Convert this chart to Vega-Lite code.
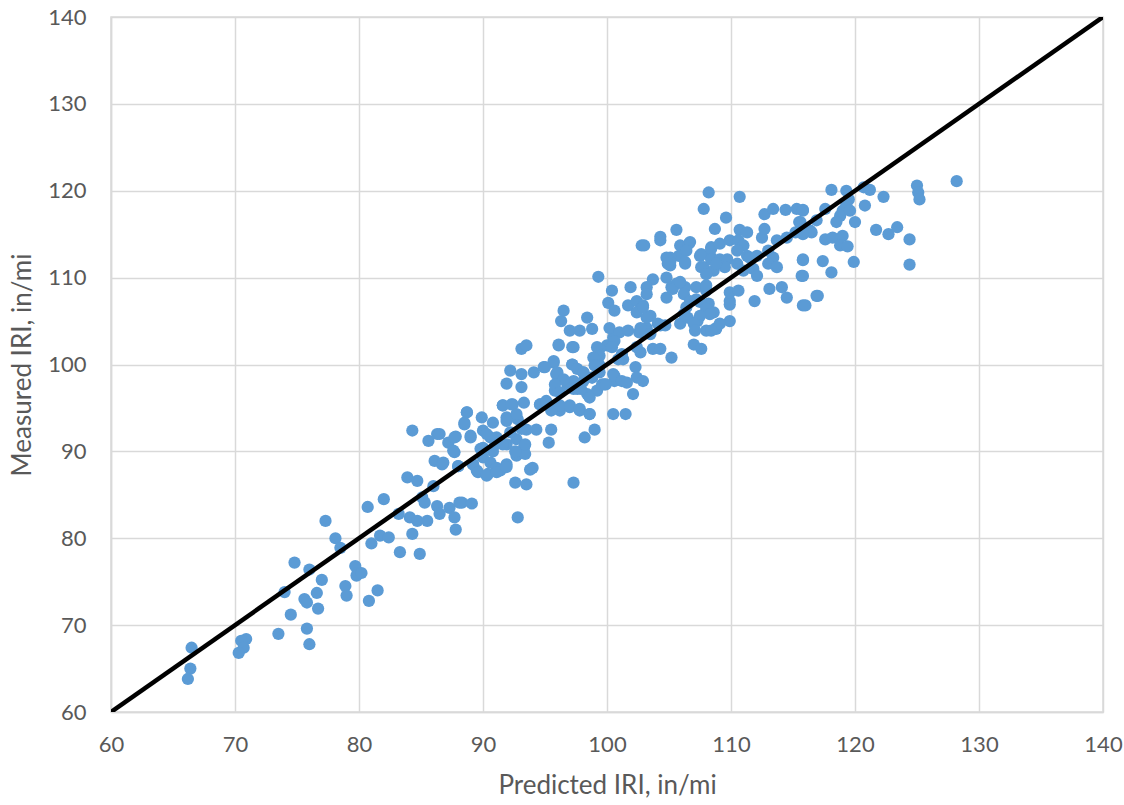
{
  "$schema": "https://vega.github.io/schema/vega-lite/v6.json",
  "width": 992,
  "height": 695,
  "autosize": {"type": "none"},
  "padding": {"left": 111, "top": 17, "right": 21, "bottom": 93},
  "background": "white",
  "config": {
    "font": "Lato",
    "view": {"stroke": "#d9d9d9", "strokeWidth": 1.5},
    "axis": {
      "labelFont": "Lato", "labelFontSize": 22, "labelColor": "#595959", "labelFlush": false, "labelOverlap": false,
      "titleFont": "Lato", "titleFontSize": 26, "titleColor": "#595959", "titleFontWeight": "normal",
      "gridColor": "#d9d9d9", "gridWidth": 1.5, "domainColor": "#d9d9d9", "domainWidth": 1.5, "ticks": false
    }
  },
  "datasets": {
    "pts": [
      {"p":66.5,"m":67.4},{"p":66.4,"m":65.0},{"p":66.2,"m":63.8},
      {"p":70.9,"m":68.4},{"p":70.5,"m":68.2},{"p":70.7,"m":67.4},{"p":70.3,"m":66.8},
      {"p":73.5,"m":69.0},{"p":74.0,"m":73.8},{"p":74.5,"m":71.2},{"p":74.8,"m":77.2},
      {"p":75.6,"m":73.0},{"p":75.8,"m":72.6},{"p":75.8,"m":69.6},{"p":76.0,"m":67.8},{"p":76.0,"m":76.4},
      {"p":76.6,"m":73.7},{"p":76.7,"m":71.9},{"p":77.0,"m":75.2},{"p":77.3,"m":82.0},
      {"p":78.1,"m":80.0},{"p":78.5,"m":78.9},{"p":78.9,"m":74.5},{"p":79.0,"m":73.4},
      {"p":79.7,"m":76.8},{"p":79.9,"m":76.0},{"p":79.8,"m":75.7},{"p":80.2,"m":76.0},
      {"p":80.7,"m":83.6},{"p":80.8,"m":72.8},{"p":81.5,"m":74.0},{"p":81.0,"m":79.4},{"p":81.7,"m":80.3},{"p":82.4,"m":80.1},
      {"p":82.0,"m":84.5},{"p":83.2,"m":82.8},{"p":84.1,"m":82.4},{"p":84.7,"m":82.0},{"p":85.5,"m":82.0},
      {"p":86.3,"m":83.7},{"p":86.5,"m":82.8},{"p":87.3,"m":83.5},{"p":88.3,"m":84.1},{"p":89.1,"m":84.0},
      {"p":87.7,"m":82.4},{"p":87.8,"m":81.0},{"p":84.3,"m":80.5},{"p":83.3,"m":78.4},{"p":84.9,"m":78.2},
      {"p":85.1,"m":84.7},{"p":85.3,"m":84.1},{"p":86.0,"m":86.0},{"p":83.9,"m":87.0},{"p":84.7,"m":86.6},
      {"p":86.1,"m":88.9},{"p":86.7,"m":88.5},{"p":88.0,"m":88.3},{"p":87.7,"m":89.9},
      {"p":84.3,"m":92.4},{"p":85.6,"m":91.2},{"p":86.3,"m":92.0},{"p":87.2,"m":91.0},{"p":87.8,"m":91.7},
      {"p":88.7,"m":94.5},{"p":88.5,"m":93.1},{"p":89.0,"m":91.8},
      {"p":92.8,"m":82.4},{"p":92.6,"m":86.4},{"p":93.5,"m":86.2},{"p":97.3,"m":86.4},
      {"p":93.1,"m":101.8},{"p":93.5,"m":102.2},{"p":96.1,"m":102.2},{"p":97.2,"m":102.0},
      {"p":100.5,"m":103.1},{"p":100.0,"m":102.2},{"p":99.4,"m":101.8},
      {"p":92.2,"m":99.3},{"p":93.1,"m":98.9},{"p":94.1,"m":99.1},{"p":94.9,"m":99.7},{"p":95.7,"m":100.2},
      {"p":91.9,"m":97.8},{"p":93.1,"m":97.4},
      {"p":95.9,"m":98.9},{"p":97.2,"m":100.0},{"p":98.1,"m":99.1},{"p":98.8,"m":98.5},{"p":99.4,"m":99.9},
      {"p":95.8,"m":97.0},{"p":96.8,"m":97.7},{"p":97.6,"m":97.2},{"p":98.4,"m":96.6},{"p":99.2,"m":97.0},{"p":99.8,"m":97.7},
      {"p":91.6,"m":95.3},{"p":92.4,"m":95.4},{"p":93.3,"m":95.6},{"p":94.6,"m":95.4},{"p":95.4,"m":95.3},
      {"p":96.2,"m":94.7},{"p":97.0,"m":95.3},{"p":97.8,"m":94.7},{"p":98.6,"m":94.3},
      {"p":88.7,"m":94.5},{"p":88.5,"m":93.3},{"p":89.9,"m":93.9},{"p":90.8,"m":93.3},
      {"p":91.9,"m":93.9},{"p":92.8,"m":93.7},{"p":93.5,"m":92.5},{"p":94.3,"m":92.5},
      {"p":95.5,"m":92.5},{"p":95.3,"m":91.0},{"p":98.2,"m":91.6},{"p":99.0,"m":92.5},
      {"p":86.5,"m":92.0},{"p":87.7,"m":91.6},{"p":89.0,"m":91.6},
      {"p":90.0,"m":92.4},{"p":90.6,"m":91.6},{"p":91.0,"m":90.8},{"p":91.9,"m":90.8},{"p":92.7,"m":91.4},{"p":93.3,"m":90.4},
      {"p":87.6,"m":90.1},{"p":88.0,"m":88.3},{"p":89.8,"m":90.3},{"p":90.0,"m":89.3},{"p":89.2,"m":88.5},{"p":90.6,"m":88.7},
      {"p":91.1,"m":88.1},{"p":91.9,"m":88.5},{"p":92.7,"m":89.5},{"p":93.4,"m":89.7},{"p":86.8,"m":88.7},
      {"p":89.5,"m":87.8},{"p":90.4,"m":87.4},{"p":91.4,"m":87.8},{"p":94.0,"m":88.1},
      {"p":100.5,"m":98.9},{"p":100.6,"m":98.1},{"p":100.5,"m":94.3},
      {"p":88.1,"m":84.1},
      {"p":102.8,"m":113.7},{"p":104.3,"m":114.3},{"p":99.3,"m":110.1},
      {"p":105.9,"m":113.7},{"p":106.6,"m":113.9},{"p":105.8,"m":112.5},{"p":105.1,"m":112.3},{"p":105.1,"m":111.4},{"p":106.3,"m":111.6},
      {"p":107.5,"m":112.5},{"p":108.4,"m":113.5},{"p":108.4,"m":112.3},{"p":107.8,"m":111.2},{"p":108.6,"m":110.8},
      {"p":103.7,"m":109.8},{"p":103.2,"m":108.9},{"p":101.9,"m":108.9},{"p":100.4,"m":108.5},
      {"p":104.8,"m":110.0},{"p":105.2,"m":108.9},{"p":104.8,"m":107.7},{"p":105.6,"m":109.3},{"p":106.3,"m":108.9},
      {"p":107.2,"m":108.9},{"p":108.0,"m":108.5},{"p":107.2,"m":107.5},{"p":108.2,"m":107.0},{"p":108.6,"m":106.0},
      {"p":100.1,"m":107.1},{"p":100.6,"m":106.2},{"p":101.7,"m":106.8},{"p":102.4,"m":107.3},{"p":103.2,"m":108.1},
      {"p":102.9,"m":106.8},{"p":102.4,"m":106.0},{"p":103.5,"m":105.6},{"p":104.1,"m":104.7},{"p":104.7,"m":104.5},
      {"p":105.9,"m":104.7},{"p":106.5,"m":105.4},{"p":107.3,"m":105.0},{"p":108.0,"m":103.9},{"p":108.8,"m":104.1},
      {"p":96.5,"m":106.2},{"p":96.3,"m":105.0},{"p":97.0,"m":103.9},{"p":97.8,"m":103.9},{"p":98.4,"m":105.4},{"p":98.8,"m":104.1},
      {"p":100.2,"m":104.2},{"p":101.0,"m":103.7},{"p":101.7,"m":103.9},{"p":102.6,"m":103.7},{"p":103.2,"m":104.2},
      {"p":100.6,"m":102.7},{"p":100.4,"m":102.0},{"p":99.2,"m":102.0},{"p":99.4,"m":101.0},{"p":98.9,"m":100.8},
      {"p":101.2,"m":101.2},{"p":101.3,"m":100.6},{"p":100.9,"m":100.6},
      {"p":102.4,"m":102.0},{"p":102.7,"m":101.4},{"p":103.7,"m":101.8},{"p":104.3,"m":101.8},{"p":105.2,"m":100.8},
      {"p":107.0,"m":102.3},{"p":107.6,"m":101.8},{"p":96.1,"m":102.3},{"p":97.3,"m":102.0},
      {"p":95.7,"m":100.4},{"p":95.0,"m":99.7},{"p":96.0,"m":99.1},{"p":97.2,"m":100.0},{"p":97.6,"m":99.5},{"p":98.1,"m":99.1},
      {"p":99.0,"m":99.9},{"p":99.4,"m":99.1},{"p":98.8,"m":98.5},{"p":99.6,"m":97.7},{"p":98.1,"m":98.1},{"p":97.3,"m":98.1},
      {"p":96.5,"m":98.3},{"p":95.8,"m":97.7},{"p":96.2,"m":96.8},{"p":97.3,"m":97.2},{"p":97.9,"m":97.2},{"p":98.6,"m":96.2},{"p":99.9,"m":97.7},
      {"p":100.6,"m":98.7},{"p":101.2,"m":98.1},{"p":101.6,"m":97.9},{"p":102.3,"m":99.7},{"p":102.4,"m":98.5},{"p":102.9,"m":98.1},
      {"p":102.1,"m":96.6},{"p":101.5,"m":94.3},
      {"p":94.6,"m":95.4},{"p":95.1,"m":95.8},{"p":95.5,"m":94.7},{"p":96.2,"m":95.3},{"p":97.0,"m":95.1},{"p":97.8,"m":94.9},{"p":98.6,"m":94.3},
      {"p":108.2,"m":119.8},{"p":110.7,"m":119.3},{"p":107.8,"m":117.9},{"p":109.6,"m":116.9},{"p":108.7,"m":115.6},
      {"p":105.6,"m":115.5},{"p":104.3,"m":114.7},{"p":103.0,"m":113.7},
      {"p":106.7,"m":114.1},{"p":106.4,"m":113.1},{"p":105.1,"m":111.8},{"p":106.3,"m":111.8},
      {"p":107.6,"m":112.7},{"p":108.4,"m":113.3},{"p":109.1,"m":113.9},{"p":109.9,"m":114.3},{"p":110.7,"m":115.5},
      {"p":111.3,"m":115.2},{"p":110.6,"m":114.3},{"p":111.0,"m":113.7},{"p":110.5,"m":113.1},{"p":111.3,"m":112.5},
      {"p":107.6,"m":111.2},{"p":108.4,"m":112.1},{"p":109.1,"m":112.1},{"p":109.7,"m":112.1},{"p":109.5,"m":111.2},{"p":108.0,"m":110.4},{"p":108.8,"m":111.6},
      {"p":110.5,"m":111.6},{"p":111.0,"m":110.8},{"p":111.8,"m":111.0},{"p":112.1,"m":110.2},{"p":111.5,"m":112.3},{"p":112.1,"m":112.5},
      {"p":113.0,"m":113.1},{"p":113.4,"m":112.3},{"p":113.0,"m":111.6},{"p":113.7,"m":111.2},
      {"p":112.5,"m":114.6},{"p":112.7,"m":115.6},{"p":112.7,"m":117.3},{"p":113.4,"m":117.9},{"p":114.4,"m":117.8},{"p":115.3,"m":117.9},
      {"p":115.8,"m":117.8},{"p":115.5,"m":116.4},{"p":115.2,"m":115.2},{"p":114.5,"m":114.6},{"p":113.7,"m":114.3},
      {"p":116.1,"m":115.6},{"p":116.5,"m":115.2},{"p":116.9,"m":116.6},
      {"p":115.8,"m":112.1},{"p":115.7,"m":110.2},{"p":113.1,"m":108.7},{"p":114.1,"m":108.9},{"p":114.5,"m":107.7},
      {"p":111.9,"m":107.3},{"p":115.8,"m":106.8},{"p":116.9,"m":107.9},
      {"p":104.8,"m":112.3},{"p":104.9,"m":111.6},
      {"p":105.3,"m":108.7},{"p":105.9,"m":109.5},{"p":106.2,"m":108.1},{"p":108.0,"m":109.1},
      {"p":106.7,"m":107.3},{"p":106.4,"m":106.6},{"p":107.5,"m":107.2},{"p":108.0,"m":106.4},{"p":108.3,"m":105.8},
      {"p":107.5,"m":105.6},{"p":106.2,"m":105.8},{"p":107.0,"m":104.7},{"p":107.1,"m":103.9},{"p":104.3,"m":104.5},
      {"p":103.2,"m":105.4},{"p":102.9,"m":106.6},{"p":102.7,"m":104.2},{"p":103.5,"m":103.5},
      {"p":108.8,"m":104.2},{"p":109.9,"m":105.0},{"p":109.1,"m":104.7},{"p":108.4,"m":103.9},
      {"p":109.9,"m":107.3},{"p":109.9,"m":108.3},{"p":110.6,"m":108.5},{"p":109.9,"m":106.9},
      {"p":128.2,"m":121.1},{"p":125.0,"m":120.6},{"p":125.1,"m":119.8},{"p":125.2,"m":119.0},
      {"p":118.1,"m":120.1},{"p":119.3,"m":120.0},{"p":120.7,"m":120.4},{"p":121.2,"m":120.1},{"p":122.3,"m":119.3},
      {"p":119.5,"m":119.0},{"p":119.3,"m":118.4},{"p":119.0,"m":117.7},{"p":118.8,"m":117.1},{"p":118.5,"m":116.4},
      {"p":119.6,"m":117.7},{"p":120.8,"m":118.3},{"p":120.0,"m":116.4},{"p":117.6,"m":117.9},{"p":115.8,"m":117.7},
      {"p":115.6,"m":116.4},{"p":116.4,"m":115.4},{"p":115.8,"m":115.0},
      {"p":121.7,"m":115.5},{"p":122.7,"m":115.0},{"p":123.4,"m":115.8},{"p":124.4,"m":114.4},{"p":124.4,"m":111.5},
      {"p":117.6,"m":114.4},{"p":118.2,"m":114.6},{"p":119.0,"m":114.8},{"p":118.8,"m":113.7},{"p":119.4,"m":113.6},
      {"p":115.8,"m":112.0},{"p":117.4,"m":111.9},{"p":118.1,"m":110.6},{"p":119.9,"m":111.8},{"p":115.8,"m":110.2},
      {"p":117.0,"m":107.9},{"p":116.0,"m":106.8},
      {"p":91.6,"m":95.3},{"p":92.3,"m":95.4},{"p":92.7,"m":94.3},{"p":91.9,"m":93.5},{"p":90.3,"m":92.0},{"p":91.1,"m":91.6},
      {"p":92.2,"m":92.2},{"p":93.1,"m":92.6},{"p":90.0,"m":90.4},{"p":90.8,"m":90.0},{"p":91.6,"m":90.8},{"p":92.6,"m":90.0},
      {"p":93.4,"m":90.8},{"p":89.2,"m":88.5},{"p":89.6,"m":87.6},{"p":90.3,"m":87.2},{"p":91.1,"m":87.6},{"p":91.9,"m":88.2},
      {"p":93.8,"m":87.9}
    ],
    "diag": [{"p":60,"m":60},{"p":140,"m":140}]
  },
  "layer": [
    {
      "data": {"name": "pts"},
      "mark": {"type": "circle", "size": 150, "color": "#5B9BD5", "opacity": 1},
      "encoding": {
        "x": {"field": "p", "type": "quantitative", "scale": {"domain": [60, 140], "nice": false, "zero": false},
              "axis": {"title": "Predicted IRI, in/mi", "values": [60,70,80,90,100,110,120,130,140], "labelPadding": 22, "titlePadding": 17}},
        "y": {"field": "m", "type": "quantitative", "scale": {"domain": [60, 140], "nice": false, "zero": false},
              "axis": {"title": "Measured IRI, in/mi", "values": [60,70,80,90,100,110,120,130,140], "labelPadding": 25, "titlePadding": 12}}
      }
    },
    {
      "data": {"name": "diag"},
      "mark": {"type": "line", "color": "black", "strokeWidth": 4.5, "clip": true},
      "encoding": {
        "x": {"field": "p", "type": "quantitative"},
        "y": {"field": "m", "type": "quantitative"}
      }
    }
  ]
}
